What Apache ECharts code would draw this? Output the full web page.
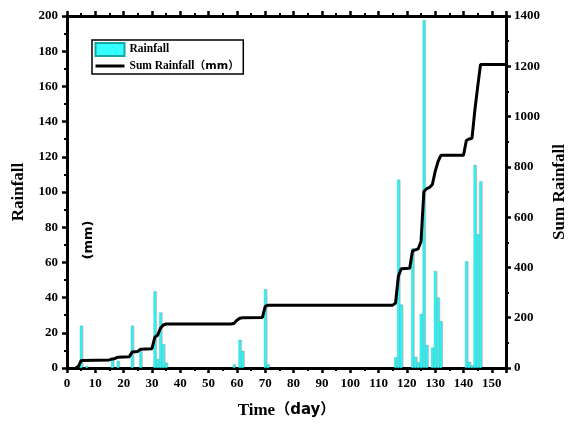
<!DOCTYPE html>
<html>
<head>
<meta charset="utf-8">
<script src="https://cdn.jsdelivr.net/npm/echarts@6/dist/echarts.min.js"></script>
<style>html,body{margin:0;padding:0;background:#fff}#c{width:570px;height:429px}</style>
</head>
<body>
<div id="c"></div>
<script>
// Daily rainfall (mm)
const rainDays = [4,5,7,16,18,23,26,31,32,33,34,35,59,61,62,70,71,116,117,118,122,123,124,125,126,127,129,130,131,132,141,142,143,144,145,146];
const rainVals = [2,24,1,4.5,4,24,9.5,43.5,5,31.5,13.5,3,2,16,9.7,44.7,2,6,107,36,68,6.3,3.2,30.7,197.5,13,11.5,55,40,26.5,60.6,3.5,1.5,115.3,76,106];
// Cumulative rainfall line
const sumDays = [3,4,5,15,16,17,18,22,23,25,26,30,31,32,33,34,35,58,59,60,61,62,69,70,71,115,116,117,118,121,122,123,124,125,126,127,128,129,130,131,132,140,141,142,143,144,145,146,155];
const sumVals = [0,5,30,32,36,38,43,45,64,66,75,77,122,130,158,171,175,175,178,190,198,200,201,245,250,250,258,365,395,397,466,470,474,503,702,713,718,730,782,821,846,846,905,911,914,1025,1118,1207,1207];
const leftTicks = {min:0, max:200, interval:20};
const rightTicks = {min:0, max:1400, interval:200};
const xTicks = {min:0, max:155, interval:10};

const serif = '"Liberation Serif","Times New Roman",serif';
const sans = '"DejaVu Sans","Noto Sans CJK SC",sans-serif';
const axisLine = {show:true, onZero:false, lineStyle:{color:'#000', width:3}};
const tick = {show:true, inside:false, length:5, lineStyle:{color:'#000', width:2.5}};
const minor = {show:true, splitNumber:2, length:3, lineStyle:{color:'#000', width:2}};
const lab = {color:'#000', fontFamily:serif, fontWeight:'bold', fontSize:13};

const chart = echarts.init(document.getElementById('c'), null, {renderer:'canvas'});
chart.setOption({
  animation:false,
  grid:{left:67, right:64, top:16, bottom:61, containLabel:false, outerBoundsMode:'none'},
  legend:{
    orient:'vertical', left:92, top:40, itemWidth:29, itemHeight:13, itemGap:3,
    padding:[2,4,2,2], borderColor:'#000', borderWidth:1.5,
    textStyle:{color:'#000', fontFamily:serif, fontWeight:'bold', fontSize:11.5,
      rich:{s:{fontFamily:sans, fontWeight:'bold', fontSize:11}}},
    formatter:function(n){ return n==='Sum Rainfall' ? 'Sum Rainfall{s|（mm）}' : n; },
    data:[
      {name:'Rainfall', icon:'rect'},
      {name:'Sum Rainfall', itemStyle:{color:'rgba(0,0,0,0)', borderColor:'rgba(0,0,0,0)', borderWidth:0, opacity:0}, lineStyle:{color:'#000', width:3}}
    ]
  },
  xAxis:[{
    type:'value', min:xTicks.min, max:xTicks.max, interval:xTicks.interval, position:'bottom',
    axisLine:axisLine, axisTick:tick, minorTick:minor, splitLine:{show:false},
    axisLabel:Object.assign({margin:9, showMaxLabel:false}, lab),
    name:'{a|Time}{b|（day）}', nameLocation:'middle', nameGap:34,
    nameTextStyle:{rich:{a:{fontFamily:serif, fontWeight:'bold', fontSize:17, color:'#000'},
      b:{fontFamily:sans, fontWeight:'bold', fontSize:15, color:'#000'}}}
  },{
    type:'value', min:xTicks.min, max:xTicks.max, interval:xTicks.interval, position:'top',
    axisLine:axisLine, axisTick:tick, minorTick:minor, splitLine:{show:false},
    axisLabel:{show:false}
  }],
  yAxis:[{
    type:'value', min:leftTicks.min, max:leftTicks.max, interval:leftTicks.interval, position:'left',
    axisLine:axisLine, axisTick:tick, minorTick:minor, splitLine:{show:false},
    axisLabel:Object.assign({margin:9}, lab),
    name:'Rainfall', nameLocation:'middle', nameGap:40, nameRotate:90,
    nameTextStyle:{fontFamily:serif, fontWeight:'bold', fontSize:17, color:'#000'}
  },{
    type:'value', min:rightTicks.min, max:rightTicks.max, interval:rightTicks.interval, position:'right',
    axisLine:axisLine, axisTick:tick, minorTick:minor, splitLine:{show:false},
    axisLabel:Object.assign({margin:8, formatter:function(v){return String(v);}}, lab),
    name:'Sum Rainfall', nameLocation:'middle', nameGap:44, nameRotate:90,
    nameTextStyle:{fontFamily:serif, fontWeight:'bold', fontSize:17, color:'#000'}
  }],
  series:[{
    name:'Rainfall', type:'bar', xAxisIndex:0, yAxisIndex:0, barWidth:2.6,
    itemStyle:{color:'#33ffff', borderColor:'#1aa5a5', borderWidth:0.3,
      shadowColor:'rgba(0,0,0,0.2)', shadowOffsetX:1, shadowBlur:0},
    data:rainDays.map((d,i)=>[d, rainVals[i]])
  },{
    name:'Sum Rainfall', type:'line', xAxisIndex:0, yAxisIndex:1, symbol:'none', showSymbol:false,
    lineStyle:{color:'#000', width:3}, itemStyle:{color:'#000'},
    data:sumDays.map((d,i)=>[d, sumVals[i]])
  }],
  graphic:[{
    type:'text', x:89, y:240, rotation:Math.PI/2,
    style:{text:'(mm)', fontFamily:sans, fontWeight:'bold', fontSize:13, fill:'#000',
      align:'center', verticalAlign:'middle'}
  }]
});
</script>
</body>
</html>
